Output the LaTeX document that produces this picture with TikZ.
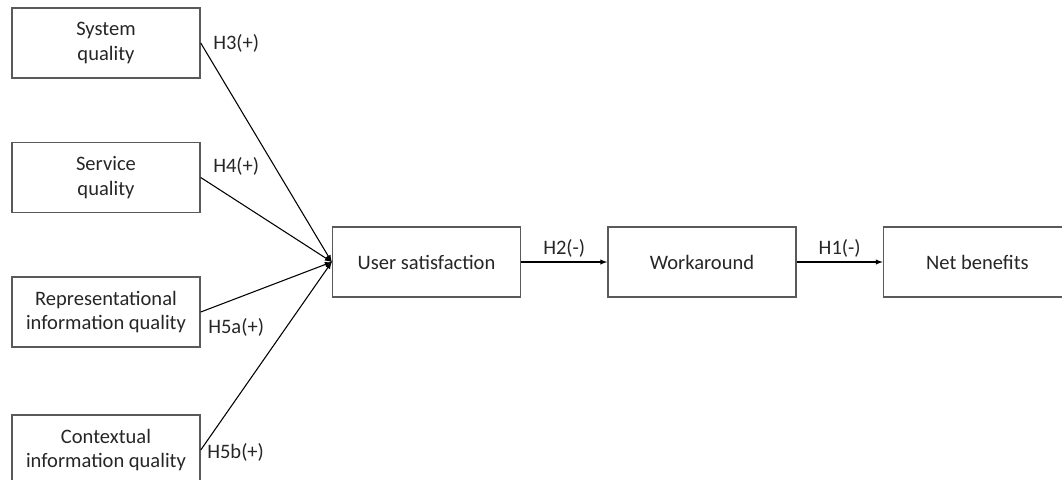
\documentclass[tikz,border=0pt]{standalone}
\usepackage{fontspec}
\setmainfont{Carlito}
\usetikzlibrary{arrows,positioning}
\definecolor{boxgray}{HTML}{5A5A5A}
\definecolor{textgray}{HTML}{262626}

\begin{document}
\begin{tikzpicture}[x=0.75pt, y=-0.75pt,
    construct/.style={draw=boxgray, line width=1.1pt, minimum width=141pt, minimum height=52.5pt,
        inner sep=0pt, align=center, text=textgray, font=\fontsize{15.4}{18.5}\selectfont},
    hyp/.style={inner sep=0pt, text=textgray, font=\fontsize{15.4}{18.5}\selectfont},
    link/.style={->, >=latex, line width=0.8pt}]
    \useasboundingbox (0,0) rectangle (1062,479);
    % antecedents
    \node[construct] (sysq) at (106,43) {System\\quality};
    \node[construct] (servq) at (106,177.5) {Service\\quality};
    \node[construct] (repq) at (106,312) {Representational\\information quality};
    \node[construct] (conq) at (106,450) {Contextual\\information quality};
    % chain
    \node[construct] (usat) at (426.5,262) {User satisfaction};
    \node[construct, right=64.5pt of usat] (work) {Workaround};
    \node[construct, right=64.5pt of work] (netb) {Net benefits};

    \draw[link] (sysq.east) -- (usat.west);
    \draw[link] (servq.east) -- (usat.west);
    \draw[link] (repq.east) -- (usat.west);
    \draw[link] (conq.east) -- (usat.west);
    \node[hyp, anchor=west] (h3) at (213,43) {H3(+)};
    \node[hyp, anchor=west] (h4) at (213,166) {H4(+)};
    \node[hyp, anchor=west] (h5a) at (208,327) {H5a(+)};
    \node[hyp, anchor=west] (h5b) at (207,452) {H5b(+)};

    \draw[link] (usat) -- node[hyp, above=3pt] (h2) {H2(-)} (work);
    \draw[link] (work) -- node[hyp, above=3pt] (h1) {H1(-)} (netb);
\end{tikzpicture}
\end{document}
